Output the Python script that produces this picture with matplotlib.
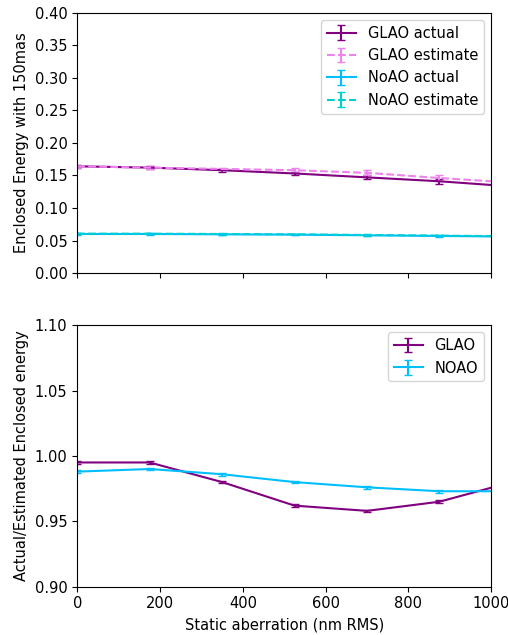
import numpy as np
import matplotlib
matplotlib.use('Agg')
import matplotlib.pyplot as plt

plt.rcParams['font.size'] = 10.5

# static aberration (nm RMS)
aberration = [0, 175, 350, 525, 700, 875, 1050]

glao_actual = [0.164, 0.162, 0.158, 0.153, 0.147, 0.141, 0.133]
glao_actual_err = [0.002, 0.002, 0.002, 0.003, 0.003, 0.004, 0.004]
glao_estimate = [0.164, 0.162, 0.160, 0.158, 0.154, 0.146, 0.139]
glao_estimate_err = [0.002, 0.002, 0.002, 0.003, 0.004, 0.004, 0.004]
noao_actual = [0.060, 0.060, 0.0595, 0.059, 0.058, 0.057, 0.056]
noao_actual_err = [0.001, 0.001, 0.001, 0.001, 0.001, 0.001, 0.001]
noao_estimate = [0.0605, 0.0605, 0.060, 0.0595, 0.0585, 0.0575, 0.0565]
noao_estimate_err = [0.001, 0.001, 0.001, 0.001, 0.001, 0.001, 0.001]

glao_ratio = [0.995, 0.995, 0.980, 0.962, 0.958, 0.965, 0.980]
glao_ratio_err = [0.001, 0.001, 0.001, 0.001, 0.001, 0.001, 0.001]
noao_ratio = [0.988, 0.990, 0.986, 0.980, 0.976, 0.973, 0.973]
noao_ratio_err = [0.001, 0.001, 0.001, 0.001, 0.001, 0.001, 0.001]

fig = plt.figure(figsize=(5.08, 6.35), dpi=100)
ax1 = fig.add_axes([0.152, 0.570, 0.815, 0.410])
ax2 = fig.add_axes([0.152, 0.076, 0.815, 0.412])

ax1.errorbar(aberration, glao_actual, yerr=glao_actual_err, color='purple', capsize=3, label='GLAO actual')
ax1.errorbar(aberration, glao_estimate, yerr=glao_estimate_err, color='violet', ls='--', capsize=3, label='GLAO estimate')
ax1.errorbar(aberration, noao_actual, yerr=noao_actual_err, color='deepskyblue', capsize=3, label='NoAO actual')
ax1.errorbar(aberration, noao_estimate, yerr=noao_estimate_err, color='darkturquoise', ls='--', capsize=3, label='NoAO estimate')
ax1.set_xlim(0, 1000)
ax1.set_ylim(0, 0.4)
ax1.set_xticklabels([])
ax1.set_ylabel('Enclosed Energy with 150mas')
ax1.legend(loc='upper right')

ax2.errorbar(aberration, glao_ratio, yerr=glao_ratio_err, color='purple', capsize=3, label='GLAO')
ax2.errorbar(aberration, noao_ratio, yerr=noao_ratio_err, color='deepskyblue', capsize=3, label='NOAO')
ax2.set_xlim(0, 1000)
ax2.set_ylim(0.9, 1.1)
ax2.set_yticks([0.90, 0.95, 1.00, 1.05, 1.10])
ax2.set_xlabel('Static aberration (nm RMS)')
ax2.set_ylabel('Actual/Estimated Enclosed energy')
ax2.legend(loc='upper right')

plt.savefig('out.png')
